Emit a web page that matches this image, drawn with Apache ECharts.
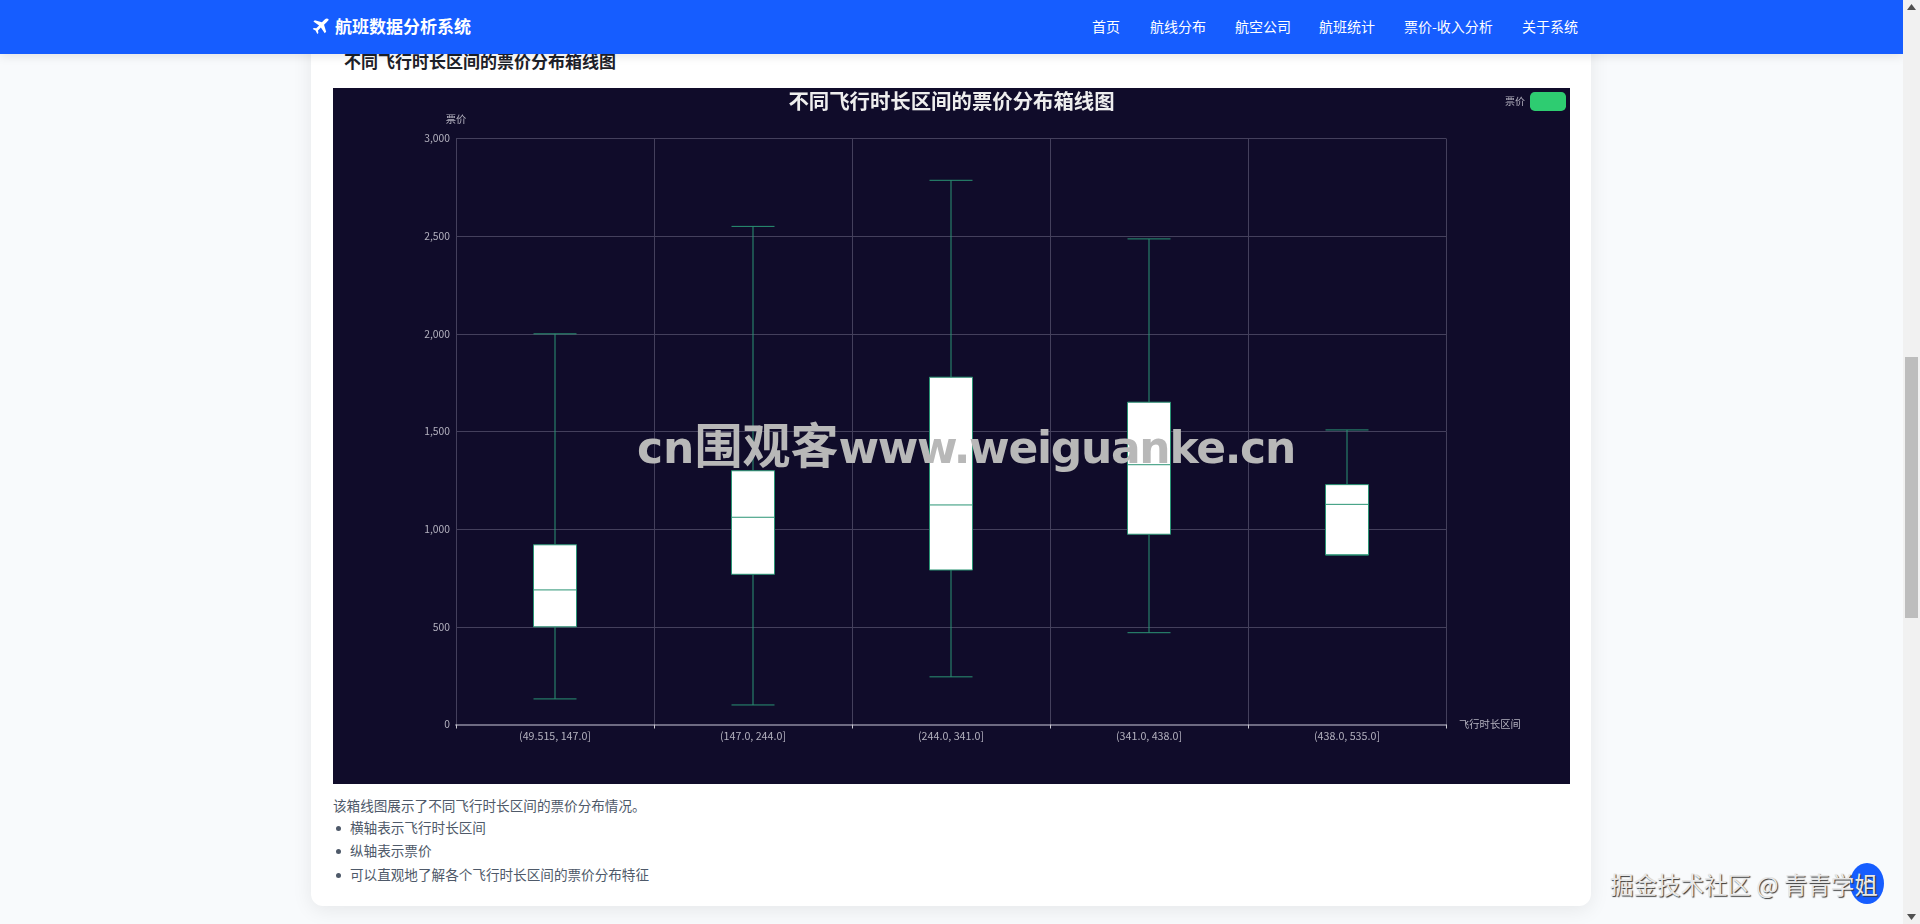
<!DOCTYPE html>
<html><head><meta charset="utf-8">
<script src="https://cdn.jsdelivr.net/npm/echarts@6/dist/echarts.min.js"></script>
<style>
html,body{margin:0;padding:0;width:1920px;height:924px;overflow:hidden;background:#f8fafc;font-family:"Noto Sans CJK SC","Noto Sans",sans-serif;}
.abs{position:absolute;white-space:nowrap;line-height:1;}
#nav{position:absolute;left:0;top:0;width:1903px;height:54px;background:#165dff;box-shadow:0 2px 10px rgba(0,0,0,.1);z-index:5;}
#card{position:absolute;left:311px;top:20px;width:1280px;height:886px;background:#fff;border-radius:12px;box-shadow:0 4px 20px rgba(0,0,0,.08);}
#chart{position:absolute;left:333px;top:88px;width:1237px;height:696px;}
#sb{position:absolute;left:1903px;top:0;width:17px;height:924px;background:#f1f1f1;z-index:6;}
#th{position:absolute;left:2px;top:357px;width:13px;height:261px;background:#bdbdbd;}
.nv{color:#fff;font-size:14px;top:19px;}
.li{color:#4e5969;font-size:13.6px;}
.dot{position:absolute;width:5px;height:5px;border-radius:50%;background:#4e5969;left:336px;}
</style></head><body>
<div id="card"></div>
<div class="abs" style="left:344px;top:51.500px;font-size:17px;font-weight:700;color:#1d2129;">不同飞行时长区间的票价分布箱线图</div>
<div id="chart"></div>
<div id="nav">
<svg class="abs" style="left:312px;top:18px" width="17" height="17" viewBox="0 0 24 24"><path fill="#fff" d="M23 1.500c-1.200-1.200-3.500-.9-5 .6l-4 4L4 3 2 5l8 5.500-4 4-3.500-.5L1 15.500l4 2 2.500 5 1.500-1.500-.5-3.500 4-4L18 21.500l2-2-3-10 4-4c1.500-1.500 3.200-2.800 2-4z"/></svg>
<div class="abs" style="left:335px;top:17px;font-size:17px;font-weight:700;color:#fff;">航班数据分析系统</div>
<div class="abs nv" style="left:1092px">首页</div>
<div class="abs nv" style="left:1150px">航线分布</div>
<div class="abs nv" style="left:1235px">航空公司</div>
<div class="abs nv" style="left:1319px">航班统计</div>
<div class="abs nv" style="left:1404px">票价-收入分析</div>
<div class="abs nv" style="left:1522px">关于系统</div>
</div>
<div class="abs li" style="left:333px;top:799px">该箱线图展示了不同飞行时长区间的票价分布情况。</div>
<div class="dot" style="top:826px"></div><div class="abs li" style="left:350px;top:821px">横轴表示飞行时长区间</div>
<div class="dot" style="top:849px"></div><div class="abs li" style="left:350px;top:844px">纵轴表示票价</div>
<div class="dot" style="top:873px"></div><div class="abs li" style="left:350px;top:868px">可以直观地了解各个飞行时长区间的票价分布特征</div>
<div class="abs" style="left:637px;top:418px;font-size:44px;font-weight:700;color:#b8b8b8;font-family:'DejaVu Sans','Noto Sans CJK SC',sans-serif;z-index:3;">cn<span style="font-size:48px;font-family:'Noto Sans CJK SC'">围观客</span><span style="letter-spacing:-1.300px">www.weiguanke.cn</span></div>
<div class="abs" style="left:1850px;top:863px;width:34px;height:41px;border-radius:50%;background:#165dff;z-index:3;"></div>
<svg class="abs" style="left:1858px;top:876px;z-index:3" width="18" height="14" viewBox="0 0 18 14"><path d="M3 10 L10 4 L16 7" fill="none" stroke="#fff" stroke-width="2"/></svg>
<div class="abs" style="left:1610px;top:873px;font-size:23.500px;color:#e8e8e8;text-shadow:1px 1px 1px #333;z-index:4;">掘金技术社区 @ 青青学姐</div>
<div id="sb"><div id="th"></div>
<svg class="abs" style="left:4px;top:4px" width="9" height="6"><path d="M0 6 L4.500 0 L9 6 Z" fill="#505050"/></svg>
<svg class="abs" style="left:4px;top:914px" width="9" height="6"><path d="M0 0 L4.500 6 L9 0 Z" fill="#505050"/></svg>
</div>
<script>
const categories = ["(49.515, 147.0]","(147.0, 244.0]","(244.0, 341.0]","(341.0, 438.0]","(438.0, 535.0]"];
const lowValues = [131, 100, 244, 470, 868];
const q1Values = [500, 769, 791, 974, 868];
const medianValues = [689, 1061, 1124, 1330, 1127];
const q3Values = [920, 1299, 1778, 1650, 1228];
const highValues = [2000, 2550, 2786, 2486, 1508];
const yTicks = {min:0,max:3000,interval:500};
const seriesName = "票价";
const titleText = "不同飞行时长区间的票价分布箱线图";
const boxData = categories.map((c,i)=>[lowValues[i],q1Values[i],medianValues[i],q3Values[i],highValues[i]]);
const lab = '#b4b2bf', gridC = '#44405c';
const cjk = '"Noto Sans CJK SC"';
const chart = echarts.init(document.getElementById('chart'),null,{renderer:'canvas'});
chart.setOption({
  animation:false,
  backgroundColor:'#100c2a',
  title:{text:titleText,left:'center',top:-2,textStyle:{color:'#eeeeee',fontSize:20.400,fontWeight:'bold',fontFamily:cjk}},
  legend:{right:4,top:4,padding:0,itemWidth:36,itemHeight:19,itemGap:0,icon:'roundRect',
    data:[{name:seriesName,itemStyle:{color:'#2ecc71',borderWidth:0}}],
    textStyle:{color:lab,fontSize:10,fontFamily:cjk},align:'right'},
  grid:{left:123,right:124,top:50.500,bottom:59.500,containLabel:false,show:false},
  xAxis:{type:'category',data:categories,name:'飞行时长区间',nameLocation:'end',nameGap:13,
    nameTextStyle:{color:lab,fontSize:10.300,fontFamily:cjk},
    boundaryGap:true,
    axisLine:{show:true,lineStyle:{color:'#6e6b82',width:2}},
    axisTick:{show:true,alignWithLabel:false,length:4,lineStyle:{color:'#c8c7d0'}},
    axisLabel:{color:lab,fontSize:10.700,margin:6,fontFamily:cjk,interval:0},
    splitLine:{show:true,lineStyle:{color:gridC,width:1,type:'solid'}}},
  yAxis:{type:'value',min:yTicks.min,max:yTicks.max,interval:yTicks.interval,name:seriesName,nameLocation:'end',nameGap:14,
    nameTextStyle:{color:lab,fontSize:10.300,fontFamily:cjk},
    axisLine:{show:true,lineStyle:{color:gridC}},axisTick:{show:false},
    axisLabel:{color:lab,fontSize:10.300,margin:6,fontFamily:cjk,formatter:v=>v.toLocaleString('en-US')},
    splitLine:{show:true,lineStyle:{color:gridC,width:1,type:'solid'}}},
  series:[{type:'boxplot',name:seriesName,data:boxData,boxWidth:[43,43],
    itemStyle:{color:'#ffffff',borderColor:'#2a9474',borderWidth:1}}]
});
</script>
</body></html>
